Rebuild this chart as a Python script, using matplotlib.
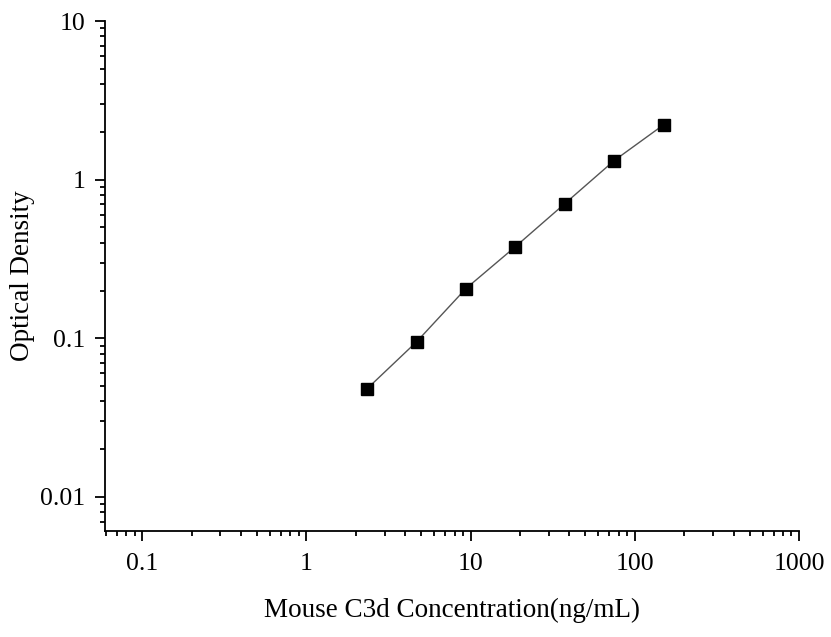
import numpy as np
import matplotlib
matplotlib.use('Agg')
import matplotlib.pyplot as plt
from matplotlib.ticker import LogLocator, FixedLocator, FixedFormatter, NullFormatter

# данные стандартной кривой
conc = [2.34, 4.69, 9.38, 18.75, 37.5, 75, 150]
od = [0.048, 0.095, 0.206, 0.378, 0.706, 1.32, 2.22]

x_ticks = [0.1, 1, 10, 100, 1000]
x_labels = ['0.1', '1', '10', '100', '1000']
y_ticks = [0.01, 0.1, 1, 10]
y_labels = ['0.01', '0.1', '1', '10']

plt.rcParams['font.family'] = ['Liberation Serif', 'DejaVu Serif']

fig = plt.figure(figsize=(8.31, 6.37), dpi=100)
ax = fig.add_axes([0.1264, 0.1664, 0.8351, 0.8006])

ax.plot(conc, od, color='#555555', lw=1.0, marker='s', ms=8,
        mfc='black', mec='black')

ax.set_xscale('log')
ax.set_yscale('log')
ax.set_xlim(0.0595, 1000)
ax.set_ylim(0.0061, 10)

ax.xaxis.set_major_locator(FixedLocator(x_ticks))
ax.xaxis.set_major_formatter(FixedFormatter(x_labels))
ax.yaxis.set_major_locator(FixedLocator(y_ticks))
ax.yaxis.set_major_formatter(FixedFormatter(y_labels))
ax.xaxis.set_minor_locator(LogLocator(base=10, subs=np.arange(2, 10), numticks=20))
ax.yaxis.set_minor_locator(LogLocator(base=10, subs=np.arange(2, 10), numticks=20))
ax.xaxis.set_minor_formatter(NullFormatter())
ax.yaxis.set_minor_formatter(NullFormatter())

for s in ['top', 'right']:
    ax.spines[s].set_visible(False)
for s in ['left', 'bottom']:
    ax.spines[s].set_linewidth(1.3)

ax.tick_params(which='major', direction='out', length=7, width=1.3, labelsize=18.5, pad=7)
ax.tick_params(axis='x', which='major', pad=9)
ax.tick_params(which='minor', direction='out', length=3.5, width=1.3)

ax.set_xlabel('Mouse C3d Concentration(ng/mL)', fontsize=19.5, labelpad=16)
ax.set_ylabel('Optical Density', fontsize=19.5, labelpad=4)

fig.savefig('out.png', dpi=100)
